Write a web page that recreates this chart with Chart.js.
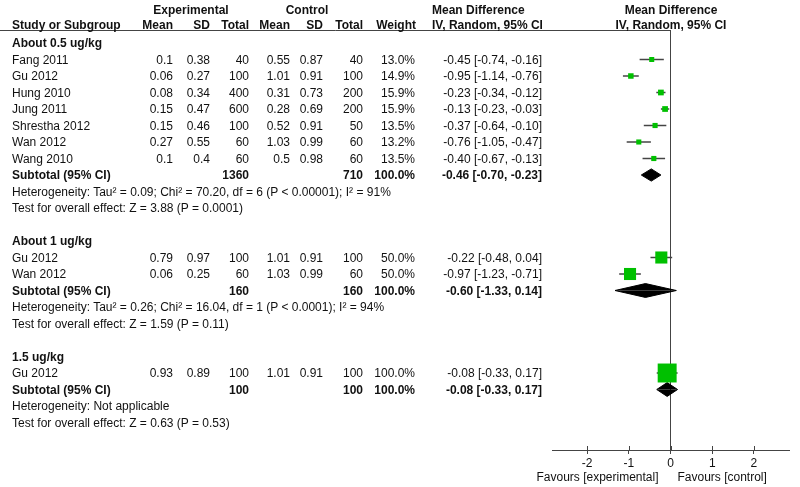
<!doctype html>
<html lang="en">
  <head>
    <meta charset="utf-8">
    <title>Forest plot - mean difference by dose</title>
    <style>
      * {
        margin: 0;
        padding: 0;
      }
      body {
        background: white;
      }
      .plotBox {
        position: relative;
        width: 800px;
        height: 487px;
        font-family: "Liberation Sans", Arial, sans-serif;
        font-size: 12px;
        color: #111;
      }
      .plotBox canvas {
        position: absolute;
        left: 0;
        top: 0;
      }
      .cell {
        position: absolute;
        line-height: 14px;
        white-space: nowrap;
      }
      .b {
        font-weight: bold;
      }
    </style>
  </head>
  <body>
    <div class="plotBox" id="plotBox">
      <canvas id="myChart" width="800" height="487"></canvas>
    </div>
    <script src="https://cdn.jsdelivr.net/npm/chart.js"></script>
    <script>
    // data
    const groupNames = ['About 0.5 ug/kg', 'About 1 ug/kg', '1.5 ug/kg'];
    const studies = [
      ['Fang 2011', 'Gu 2012', 'Hung 2010', 'Jung 2011', 'Shrestha 2012', 'Wan 2012', 'Wang 2010'],
      ['Gu 2012', 'Wan 2012'],
      ['Gu 2012']
    ];
    const expMean = [[0.1, 0.06, 0.08, 0.15, 0.15, 0.27, 0.1], [0.79, 0.06], [0.93]];
    const expSD = [[0.38, 0.27, 0.34, 0.47, 0.46, 0.55, 0.4], [0.97, 0.25], [0.89]];
    const expTotal = [[40, 100, 400, 600, 100, 60, 60], [100, 60], [100]];
    const ctlMean = [[0.55, 1.01, 0.31, 0.28, 0.52, 1.03, 0.5], [1.01, 1.03], [1.01]];
    const ctlSD = [[0.87, 0.91, 0.73, 0.69, 0.91, 0.99, 0.98], [0.91, 0.99], [0.91]];
    const ctlTotal = [[40, 100, 200, 200, 50, 60, 60], [100, 60], [100]];
    const weight = [[13.0, 14.9, 15.9, 15.9, 13.5, 13.2, 13.5], [50.0, 50.0], [100.0]];
    const meanDiff = [[-0.45, -0.95, -0.23, -0.13, -0.37, -0.76, -0.40], [-0.22, -0.97], [-0.08]];
    const ciLow = [[-0.74, -1.14, -0.34, -0.23, -0.64, -1.05, -0.67], [-0.48, -1.23], [-0.33]];
    const ciHigh = [[-0.16, -0.76, -0.12, -0.03, -0.10, -0.47, -0.13], [0.04, -0.71], [0.17]];
    const subExpTotal = [1360, 160, 100];
    const subCtlTotal = [710, 160, 100];
    const subMeanDiff = [-0.46, -0.60, -0.08];
    const subLow = [-0.70, -1.33, -0.33];
    const subHigh = [-0.23, 0.14, 0.17];
    const heterogeneity = [
      'Heterogeneity: Tau\u00b2 = 0.09; Chi\u00b2 = 70.20, df = 6 (P < 0.00001); I\u00b2 = 91%',
      'Heterogeneity: Tau\u00b2 = 0.26; Chi\u00b2 = 16.04, df = 1 (P < 0.0001); I\u00b2 = 94%',
      'Heterogeneity: Not applicable'
    ];
    const overallEffect = [
      'Test for overall effect: Z = 3.88 (P = 0.0001)',
      'Test for overall effect: Z = 1.59 (P = 0.11)',
      'Test for overall effect: Z = 0.63 (P = 0.53)'
    ];
    const xTicks = [-2, -1, 0, 1, 2];
    const xMin = -2.84;
    const xMax = 2.84;

    // layout
    const ROW_H = 16.5;
    const FIRST_Y = 10;
    const AXIS_Y = 450;
    const RULE_ROW = (30 - FIRST_Y) / ROW_H;
    const green = '#00c000';
    const lineCol = '#444';

    const box = document.getElementById('plotBox');
    function put(text, x, row, align, bold) {
      const d = document.createElement('div');
      d.className = 'cell' + (bold ? ' b' : '');
      d.textContent = text;
      d.style.top = (FIRST_Y + ROW_H * row - 7) + 'px';
      if (align == 'right') {
        d.style.right = (800 - x) + 'px';
      } else if (align == 'center') {
        d.style.left = (x - 100) + 'px';
        d.style.width = '200px';
        d.style.textAlign = 'center';
      } else {
        d.style.left = x + 'px';
      }
      box.appendChild(d);
    }
    const ci = (m, l, h) => m.toFixed(2) + ' [' + l.toFixed(2) + ', ' + h.toFixed(2) + ']';

    // header
    put('Experimental', 191, 0, 'center', true);
    put('Control', 307, 0, 'center', true);
    put('Mean Difference', 432, 0, 'left', true);
    put('Mean Difference', 671, 0, 'center', true);
    const hr = 0.91;
    put('Study or Subgroup', 12, hr, 'left', true);
    put('Mean', 173, hr, 'right', true);
    put('SD', 210, hr, 'right', true);
    put('Total', 249, hr, 'right', true);
    put('Mean', 290, hr, 'right', true);
    put('SD', 323, hr, 'right', true);
    put('Total', 363, hr, 'right', true);
    put('Weight', 416, hr, 'right', true);
    put('IV, Random, 95% CI', 432, hr, 'left', true);
    put('IV, Random, 95% CI', 671, hr, 'center', true);

    const squares = [];
    const squareSizes = [];
    const datasets = [];
    let k = 2;
    groupNames.forEach((g, gi) => {
      put(g, 12, k++, 'left', true);
      studies[gi].forEach((s, si) => {
        put(s, 12, k, 'left');
        put(String(expMean[gi][si]), 173, k, 'right');
        put(String(expSD[gi][si]), 210, k, 'right');
        put(String(expTotal[gi][si]), 249, k, 'right');
        put(String(ctlMean[gi][si]), 290, k, 'right');
        put(String(ctlSD[gi][si]), 323, k, 'right');
        put(String(ctlTotal[gi][si]), 363, k, 'right');
        put(weight[gi][si].toFixed(1) + '%', 415, k, 'right');
        put(ci(meanDiff[gi][si], ciLow[gi][si], ciHigh[gi][si]), 542, k, 'right');
        squares.push({x: meanDiff[gi][si], y: k});
        squareSizes.push(0.95 * Math.pow(weight[gi][si], 0.65) / Math.SQRT2);
        datasets.push({
          type: 'line',
          data: [{x: ciLow[gi][si], y: k}, {x: ciHigh[gi][si], y: k}],
          borderColor: lineCol,
          borderWidth: 1.5,
          pointRadius: 0,
          order: 2
        });
        k++;
      });
      put('Subtotal (95% CI)', 12, k, 'left', true);
      put(String(subExpTotal[gi]), 249, k, 'right', true);
      put(String(subCtlTotal[gi]), 363, k, 'right', true);
      put('100.0%', 415, k, 'right', true);
      put(ci(subMeanDiff[gi], subLow[gi], subHigh[gi]), 542, k, 'right', true);
      const h = gi == 0 ? 0.37 : 0.42;
      [-h, h].forEach(dh => {
        datasets.push({
          type: 'line',
          data: [{x: subLow[gi], y: k}, {x: subMeanDiff[gi], y: k + dh}, {x: subHigh[gi], y: k}],
          borderColor: '#000',
          borderWidth: 1,
          backgroundColor: '#000',
          fill: {value: k},
          pointRadius: 0,
          tension: 0,
          order: 1
        });
      });
      k++;
      put(heterogeneity[gi], 12, k++, 'left');
      put(overallEffect[gi], 12, k++, 'left');
      k++;
    });

    const yMin = -FIRST_Y / ROW_H;
    const yMax = (AXIS_Y - FIRST_Y) / ROW_H;

    datasets.push({
      data: squares,
      pointStyle: 'rect',
      pointRadius: squareSizes,
      backgroundColor: green,
      borderWidth: 0,
      order: 0
    });
    datasets.push({
      type: 'line',
      data: [{x: 0, y: RULE_ROW}, {x: 0, y: yMax}],
      borderColor: lineCol,
      borderWidth: 1,
      pointRadius: 0,
      order: 3
    });

    const extras = {
      id: 'extras',
      beforeDatasetsDraw(chart) {
        const ctx = chart.ctx;
        const xs = chart.scales.x;
        const ys = chart.scales.y;
        const x0 = xs.getPixelForValue(0);
        const yr = Math.round(ys.getPixelForValue(RULE_ROW)) + 0.5;
        ctx.save();
        ctx.strokeStyle = lineCol;
        ctx.lineWidth = 1;
        ctx.beginPath();
        ctx.moveTo(0, yr);
        ctx.lineTo(x0, yr);
        // upper half of the cross-shaped ticks
        xTicks.forEach(v => {
          const px = Math.round(xs.getPixelForValue(v)) + 0.5;
          ctx.moveTo(px, xs.top - 4);
          ctx.lineTo(px, xs.top);
        });
        ctx.stroke();
        ctx.fillStyle = '#111';
        ctx.font = '12px "Liberation Sans", Arial, sans-serif';
        ctx.textBaseline = 'middle';
        ctx.textAlign = 'right';
        ctx.fillText('Favours [experimental]', x0 - 12, xs.bottom - 9);
        ctx.textAlign = 'left';
        ctx.fillText('Favours [control]', x0 + 7, xs.bottom - 9);
        ctx.restore();
      }
    };

    new Chart(document.getElementById('myChart'), {
      type: 'scatter',
      data: {datasets},
      options: {
        responsive: false,
        animation: false,
        events: [],
        layout: {autoPadding: false, padding: {left: 552, right: 11, top: 0, bottom: 0}},
        plugins: {legend: {display: false}, tooltip: {enabled: false}},
        scales: {
          x: {
            type: 'linear',
            min: xMin,
            max: xMax,
            afterBuildTicks: (scale) => { scale.ticks = xTicks.map(v => ({value: v})); },
            afterFit: (scale) => { scale.height = 487 - AXIS_Y; },
            grid: {drawOnChartArea: false, drawTicks: true, tickLength: 4, color: lineCol},
            border: {display: true, color: lineCol},
            ticks: {
              color: '#111',
              padding: 2,
              font: {family: '"Liberation Sans", Arial, sans-serif', size: 12}
            }
          },
          y: {
            type: 'linear',
            display: false,
            reverse: true,
            min: yMin,
            max: yMax
          }
        }
      },
      plugins: [extras]
    });
    </script>
  </body>
</html>
